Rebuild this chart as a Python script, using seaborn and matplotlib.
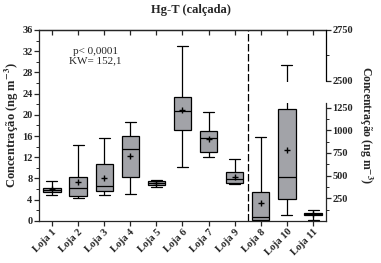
import numpy as np
import pandas as pd
import matplotlib
matplotlib.use("Agg")
import matplotlib.pyplot as plt
import matplotlib.transforms as mtrans
from matplotlib.patches import Rectangle
import seaborn as sns

# -----------------------------------------------------------------------------
# DATA (five-number summaries read off the figure + means)
# -----------------------------------------------------------------------------
# left axis groups (ng m-3)
lojas_left = ["Loja 1", "Loja 2", "Loja 3", "Loja 4", "Loja 5", "Loja 6", "Loja 7", "Loja 9"]
min_left = [4.9, 4.3, 4.9, 5.1, 6.35, 10.2, 12.06, 6.9]
q1_left = [5.4, 4.65, 5.6, 8.3, 6.7, 17.1, 12.95, 7.1]
med_left = [5.9, 6.2, 6.6, 13.6, 7.1, 20.7, 15.6, 7.9]
q3_left = [6.3, 8.3, 10.7, 16.0, 7.5, 23.3, 16.9, 9.2]
max_left = [7.45, 14.3, 15.6, 18.6, 7.7, 33.0, 20.5, 11.6]
mean_left = [6.0, 7.3, 8.0, 12.25, 7.2, 20.9, 15.4, 8.2]

# right axis groups (broken axis, ng m-3)
lojas_right = ["Loja 8", "Loja 10", "Loja 11"]
min_right = [0, 60, 13]
q1_right = [5, 244, 60]
med_right = [42, 479, 75]
q3_right = [321, 1239, 86]
max_right = [927, 2578, 123]
mean_right = [200, 787, 75]

left_ticks = list(range(0, 37, 4))
right_ticks = [250, 500, 750, 1000, 1250, 2500, 2750]
right_minor = [125, 375, 625, 875, 1125, 2625]

# -----------------------------------------------------------------------------
# MAP THE BROKEN RIGHT SCALE ONTO THE LEFT SCALE
# -----------------------------------------------------------------------------
K_LOW = 0.0171          # 0..1250 segment
UP0, K_UP = 26.4, 0.0384  # 2500..2750 segment
GAP = (22.25, 26.1)


def right_to_left(v):
    v = np.asarray(v, dtype=float)
    return np.where(v <= 1300, v * K_LOW, UP0 + (v - 2500) * K_UP)


lojas = lojas_left + lojas_right
rows = []
for i, loja in enumerate(lojas_left):
    for v in [min_left[i], q1_left[i], med_left[i], q3_left[i], max_left[i]]:
        rows.append((loja, v))
for i, loja in enumerate(lojas_right):
    vals = right_to_left([min_right[i], q1_right[i], med_right[i], q3_right[i], max_right[i]])
    for v in vals:
        rows.append((loja, float(v)))
df = pd.DataFrame(rows, columns=["loja", "valor"])

means = pd.DataFrame({
    "loja": lojas,
    "media": list(mean_left) + list(right_to_left(mean_right)),
})

# -----------------------------------------------------------------------------
# PLOT
# -----------------------------------------------------------------------------
sns.set_style("ticks")
plt.rcParams["font.family"] = ["Liberation Serif", "DejaVu Serif"]
plt.rcParams["mathtext.fontset"] = "stix"

fig = plt.figure(figsize=(3.81, 2.63), dpi=100)
ax = fig.add_axes([0.102, 0.160, 0.754, 0.726])

sns.boxplot(data=df, x="loja", y="valor", order=lojas, whis=(0, 100),
            width=0.66, color="#a2a3a8", saturation=1, linecolor="black",
            linewidth=0.9, fliersize=0, ax=ax)
sns.pointplot(data=means, x="loja", y="media", order=lojas, errorbar=None,
              linestyle="none", marker="+", color="black", markersize=5,
              markeredgewidth=1.0, ax=ax)

# widen the whisker caps a little
for ln in ax.lines:
    xd = np.asarray(ln.get_xdata(), dtype=float)
    yd = np.asarray(ln.get_ydata(), dtype=float)
    if len(xd) == 2 and yd[0] == yd[1] and 0.3 < abs(xd[1] - xd[0]) < 0.35:
        c = xd.mean()
        ln.set_xdata([c - 0.21, c + 0.21])

# break in the Loja 10 whisker
i10 = lojas.index("Loja 10")
ax.add_patch(Rectangle((i10 - 0.3, GAP[0]), 0.6, GAP[1] - GAP[0],
                       facecolor="white", edgecolor="none", zorder=10))

ax.axvline(len(lojas_left) - 0.5, color="black", lw=0.9, dashes=(6, 2))

ax.set_xlim(-0.5, len(lojas) - 0.5)
ax.set_ylim(0, 36)
ax.set_yticks(left_ticks)
ax.set_yticks(np.arange(2, 36, 4), minor=True)
ax.set_xlabel("")
ax.set_ylabel(r"Concentração (ng m$^{\mathbf{-3}}$)", fontsize=9, fontweight="bold", labelpad=1)
ax.tick_params(axis="y", which="major", length=3.5, width=0.9, labelsize=7.5, pad=1)
ax.tick_params(axis="y", which="minor", length=2, width=0.7)
ax.tick_params(axis="x", length=3.5, width=0.9, labelsize=7.5, pad=1)
for lab in ax.get_xticklabels() + ax.get_yticklabels():
    lab.set_fontweight("bold")
plt.setp(ax.get_xticklabels(), rotation=45, ha="right", rotation_mode="anchor")
for s in ["left", "bottom", "top"]:
    ax.spines[s].set_linewidth(0.9)
ax.spines["right"].set_visible(False)

top = ax.secondary_xaxis("top")
top.set_xticks(range(len(lojas)))
top.tick_params(direction="in", length=3.5, width=0.9, labeltop=False)
top.spines["top"].set_linewidth(0.9)

# right (broken) axis
ax2 = ax.twinx()
ax2.set_ylim(0, 36)
ax2.set_yticks(right_to_left(right_ticks))
ax2.set_yticklabels([str(t) for t in right_ticks], fontweight="bold")
ax2.set_yticks(right_to_left(right_minor), minor=True)
ax2.tick_params(axis="y", which="major", length=3.5, width=0.9, labelsize=7.5, pad=1)
ax2.tick_params(axis="y", which="minor", length=2, width=0.7)
for s in ["left", "top", "bottom"]:
    ax2.spines[s].set_visible(False)
ax2.spines["right"].set_linewidth(0.9)
ax2.spines["right"].set_bounds(0, GAP[0])
trans = mtrans.blended_transform_factory(ax2.transAxes, ax2.transData)
ax2.plot([1, 1], [UP0, 36], transform=trans, color="black", lw=0.9, clip_on=False)
ax2.set_ylabel(r"Concentração (ng m$^{\mathbf{-3}}$)", fontsize=8.5, fontweight="bold",
               rotation=270, labelpad=15)

ax.text(1.66, 31.1, "p< 0,0001\nKW= 152,1", ha="center", va="center",
        fontsize=8, linespacing=1.1)
fig.text(0.5, 0.962, "Hg-T (calçada)", ha="center", va="center",
         fontsize=9, fontweight="bold")

fig.savefig("out.png", dpi=100)
